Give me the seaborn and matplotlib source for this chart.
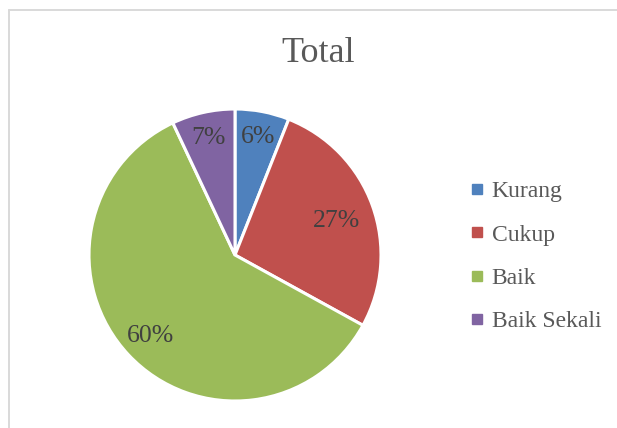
import numpy as np
import matplotlib
matplotlib.use("Agg")
import matplotlib.pyplot as plt
from matplotlib.lines import Line2D
import seaborn as sns

# Data
categories = ["Kurang", "Cukup", "Baik", "Baik Sekali"]
percentages = [6, 27, 60, 7]
title_text = "Total"

sns.set_theme(style="white")
plt.rcParams["font.family"] = ["Liberation Serif", "DejaVu Serif"]

colors = sns.color_palette(["#4F81BD", "#C0504D", "#9BBB59", "#8064A2"])
label_radii = [0.84, 0.74, 0.79, 0.84]

W, H = 617, 428
fig = plt.figure(figsize=(W / 100, H / 100), dpi=100)
fig.patch.set_facecolor("white")

# pie axes: centre (235, 255) px, radius 146 px
cx, cy, r = 235, 255, 146
ax = fig.add_axes([(cx - r) / W, (H - cy - r) / H, 2 * r / W, 2 * r / H])

wedges, texts, autotexts = ax.pie(
    percentages,
    colors=colors,
    startangle=90,
    counterclock=False,
    autopct=lambda p: f"{p:.0f}%",
    wedgeprops=dict(edgecolor="white", linewidth=2.2),
    textprops=dict(color="#404040", fontsize=18.5),
)
ax.set_xlim(-1, 1)
ax.set_ylim(-1, 1)
ax.set_aspect("equal")

# place the percentage labels along each wedge's bisector
for w, t, rad in zip(wedges, autotexts, label_radii):
    mid = np.deg2rad((w.theta1 + w.theta2) / 2)
    t.set_position((rad * np.cos(mid), rad * np.sin(mid) - 0.015))
    t.set_ha("center")
    t.set_va("center")

fig.text(318 / W, 1 - 54 / H, title_text, ha="center", va="center",
         fontsize=26, color="#595959")

handles = [Line2D([], [], marker="s", linestyle="none", markersize=6.5,
                  color=c) for c in colors]
fig.legend(handles, categories, loc="center left",
           bbox_to_anchor=(471.5 / W, 1 - 256.5 / H), frameon=False,
           fontsize=17, handlelength=0.5, handletextpad=0.35,
           labelspacing=0.93, borderpad=0, borderaxespad=0,
           labelcolor="#595959")

# chart-area border (left and top edges)
fig.add_artist(Line2D([9 / W, 9 / W], [0, 1 - 9.5 / H], color="#D9D9D9",
                      lw=1.4, transform=fig.transFigure))
fig.add_artist(Line2D([9 / W, 1], [1 - 9.5 / H, 1 - 9.5 / H], color="#D9D9D9",
                      lw=1.4, transform=fig.transFigure))

fig.savefig("out.png", dpi=100)
